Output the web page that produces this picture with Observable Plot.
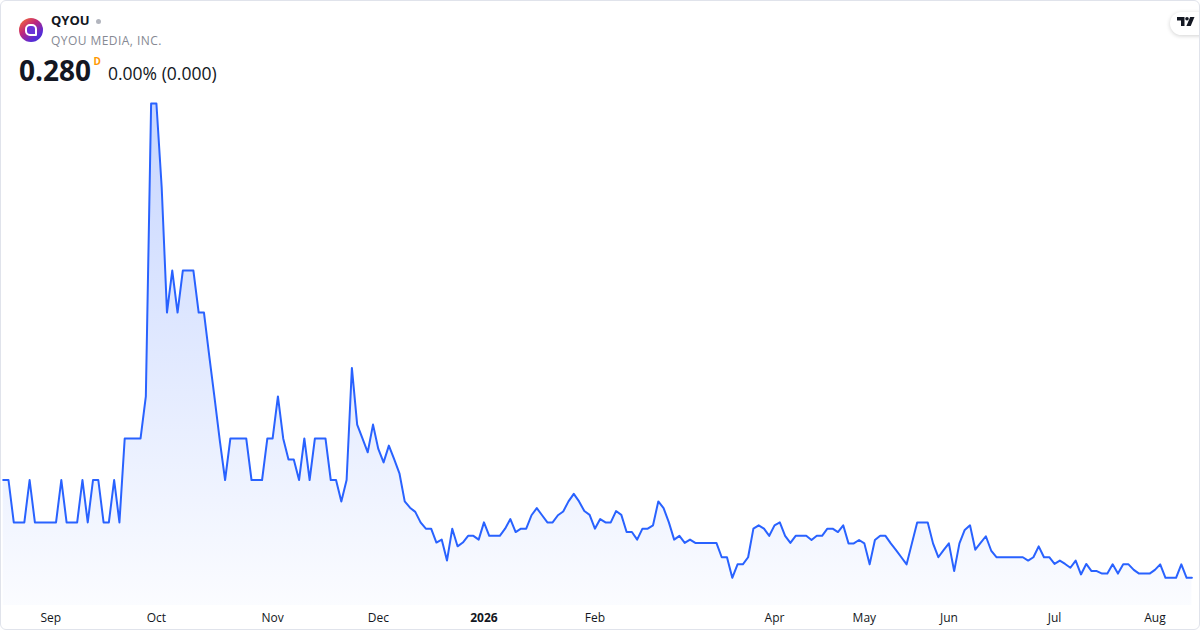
<!DOCTYPE html>
<html>
<head>
<meta charset="utf-8">
<script src="https://cdn.jsdelivr.net/npm/d3@7"></script>
<script src="https://cdn.jsdelivr.net/npm/@observablehq/plot@0.6"></script>
<style>
  body { margin: 0; background: #fff; font-family: "Open Sans", "Noto Sans", sans-serif; }
  #card { position: relative; width: 1200px; height: 630px; overflow: hidden; background: #fff; }
  #frame { position: absolute; left: 0; top: 0; width: 1200px; height: 630px; box-sizing: border-box;
           border: 1px solid #e0e3eb; border-radius: 6px; pointer-events: none; }
  #chart { position: absolute; left: 0; top: 0; }
  .hd { position: absolute; white-space: nowrap; line-height: 1; }
  #logo { position: absolute; left: 18.5px; top: 18px; width: 24px; height: 24px; border-radius: 50%;
          background: linear-gradient(140deg, #ff7a2a 0%, #c0267a 40%, #5a2bd6 75%, #3b2fc9 100%); }
  #logo i { position: absolute; left: 6px; top: 6px; width: 8px; height: 8px; border: 2px solid #fff;
            border-radius: 5px 5px 1px 5px; background: #6b35d8; }
  #sym { left: 51px; top: 14.4px; font-size: 13px; font-weight: 700; color: #131722; }
  #dot { position: absolute; left: 96px; top: 19px; width: 5px; height: 5px; border-radius: 50%; background: #b2b5be; }
  #name { left: 51px; top: 34.6px; font-size: 12px; color: #868993; letter-spacing: 0.45px; }
  #price { left: 19px; top: 56.1px; font-size: 28px; font-weight: 700; color: #131722; }
  #dflag { left: 93.5px; top: 56px; font-size: 10px; font-weight: 700; color: #ff9800; }
  #chg { left: 108px; top: 65.2px; font-size: 17.5px; color: #131722; }
  #tv { position: absolute; left: 1170px; top: 12px; width: 44px; height: 23px; border-radius: 12px;
        background: #fff; box-shadow: 0 1px 4px rgba(0,0,0,0.18); }
  #tv svg { position: absolute; left: 7px; top: 4.5px; }
</style>
</head>
<body>
<div id="card">
  <div id="chart"></div>
  <div id="logo"><i></i></div>
  <div class="hd" id="sym">QYOU</div>
  <div id="dot"></div>
  <div class="hd" id="name">QYOU MEDIA, INC.</div>
  <div class="hd" id="price">0.280</div>
  <div class="hd" id="dflag">D</div>
  <div class="hd" id="chg">0.00% (0.000)</div>
  <div id="tv">
    <svg width="18" height="9" viewBox="0 0 18 9">
      <path d="M0 0h7.5v9h-3.5v-5.5h-4z" fill="#131722"/>
      <circle cx="10" cy="1.8" r="1.8" fill="#131722"/>
      <path d="M13.2 0h4.3l-3.8 9h-4.3z" fill="#131722"/>
    </svg>
  </div>
  <div id="frame"></div>
</div>
<script>
// daily closes, one value per trading session
const closes = [
  0.3033, 0.3033, 0.2932, 0.2932, 0.2932, 0.3033, 0.2932, 0.2932, 0.2932, 0.2932,
  0.2932, 0.3033, 0.2932, 0.2932, 0.2932, 0.3033, 0.2932, 0.3033, 0.3033, 0.2932,
  0.2932, 0.3033, 0.2932, 0.3132, 0.3132, 0.3132, 0.3132, 0.3232, 0.3930, 0.3930,
  0.3730, 0.3432, 0.3532, 0.3432, 0.3532, 0.3532, 0.3532, 0.3432, 0.3432, 0.3329,
  0.3229, 0.3127, 0.3033, 0.3132, 0.3132, 0.3132, 0.3132, 0.3033, 0.3033, 0.3033,
  0.3132, 0.3132, 0.3232, 0.3132, 0.3082, 0.3082, 0.3033, 0.3132, 0.3033, 0.3132,
  0.3132, 0.3132, 0.3033, 0.3033, 0.2982, 0.3033, 0.3300, 0.3165, 0.3132, 0.3099,
  0.3165, 0.3107, 0.3075, 0.3115, 0.3083, 0.3049, 0.2982, 0.2967, 0.2957, 0.2932,
  0.2917, 0.2917, 0.2884, 0.2891, 0.2841, 0.2917, 0.2875, 0.2884, 0.2900, 0.2900,
  0.2891, 0.2932, 0.2900, 0.2900, 0.2900, 0.2917, 0.2940, 0.2909, 0.2917, 0.2917,
  0.2949, 0.2966, 0.2949, 0.2932, 0.2932, 0.2949, 0.2958, 0.2982, 0.3000, 0.2982,
  0.2959, 0.2950, 0.2917, 0.2940, 0.2932, 0.2932, 0.2959, 0.2950, 0.2909, 0.2909,
  0.2891, 0.2917, 0.2917, 0.2925, 0.2982, 0.2966, 0.2932, 0.2891, 0.2900, 0.2883,
  0.2891, 0.2883, 0.2883, 0.2883, 0.2883, 0.2883, 0.2849, 0.2849, 0.2800, 0.2832,
  0.2832, 0.2849, 0.2917, 0.2925, 0.2917, 0.2900, 0.2925, 0.2932, 0.2900, 0.2883,
  0.2900, 0.2900, 0.2900, 0.2890, 0.2900, 0.2900, 0.2917, 0.2917, 0.2909, 0.2925,
  0.2882, 0.2882, 0.2890, 0.2882, 0.2832, 0.2890, 0.2900, 0.2900, 0.2882, 0.2866,
  0.2849, 0.2832, 0.2882, 0.2932, 0.2932, 0.2932, 0.2882, 0.2849, 0.2866, 0.2882,
  0.2816, 0.2882, 0.2914, 0.2925, 0.2867, 0.2883, 0.2899, 0.2865, 0.2849, 0.2849,
  0.2849, 0.2849, 0.2849, 0.2849, 0.2841, 0.2849, 0.2875, 0.2849, 0.2849, 0.2833,
  0.2841, 0.2833, 0.2824, 0.2841, 0.2808, 0.2833, 0.2816, 0.2816, 0.2810, 0.2810,
  0.2832, 0.2810, 0.2832, 0.2832, 0.2819, 0.2810, 0.2810, 0.2810, 0.2819, 0.2832,
  0.2800, 0.2800, 0.2800, 0.2832, 0.2800, 0.2800
]

// month labels sit on the first session of each month
const tickIndex = [9, 29, 51, 71, 91, 112, 146, 163, 179, 199, 218]
const tickLabels = ["Sep", "Oct", "Nov", "Dec", "2026", "Feb", "Apr", "May", "Jun", "Jul", "Aug"]

const yMin = 0.2734
const yMax = 0.393

let rows = closes.map((p, i) => ({i, p}))
let ticks = tickIndex.map((i, k) => ({i, label: tickLabels[k]}))

const gradient = () => {
  let defs = d3.create("svg:defs")
  let g = defs.append("linearGradient")
    .attr("id", "qyouFill")
    .attr("x1", 0).attr("x2", 0).attr("y1", 0).attr("y2", 1)
  g.append("stop").attr("offset", "0%").attr("stop-color", "#2962ff").attr("stop-opacity", 0.26)
  g.append("stop").attr("offset", "100%").attr("stop-color", "#2962ff").attr("stop-opacity", 0.02)
  return defs.node()
}

let chart = Plot.plot({
  width: 1200,
  height: 630,
  marginLeft: 2.7,
  marginRight: 8.6,
  marginTop: 103,
  marginBottom: 25,
  x: {domain: [0, closes.length - 1], axis: null},
  y: {domain: [yMin, yMax], axis: null},
  style: {
    fontFamily: "'Open Sans', 'Noto Sans', sans-serif",
    background: "transparent",
    overflow: "visible",
  },
  marks: [
    gradient,
    Plot.areaY(rows, {x: "i", y1: yMin, y2: "p", fill: "url(#qyouFill)"}),
    Plot.lineY(rows, {x: "i", y: "p", stroke: "#2962ff", strokeWidth: 2}),
    Plot.text(ticks.filter(d => d.label != "2026"), {
      x: "i", text: "label", frameAnchor: "bottom", lineAnchor: "top",
      dy: 8, fontSize: 12, fill: "#131722",
    }),
    Plot.text(ticks.filter(d => d.label == "2026"), {
      x: "i", text: "label", frameAnchor: "bottom", lineAnchor: "top",
      dy: 8, fontSize: 12, fontWeight: "bold", fill: "#131722",
    }),
  ],
})

d3.select("#chart").append(() => chart)
</script>
</body>
</html>
